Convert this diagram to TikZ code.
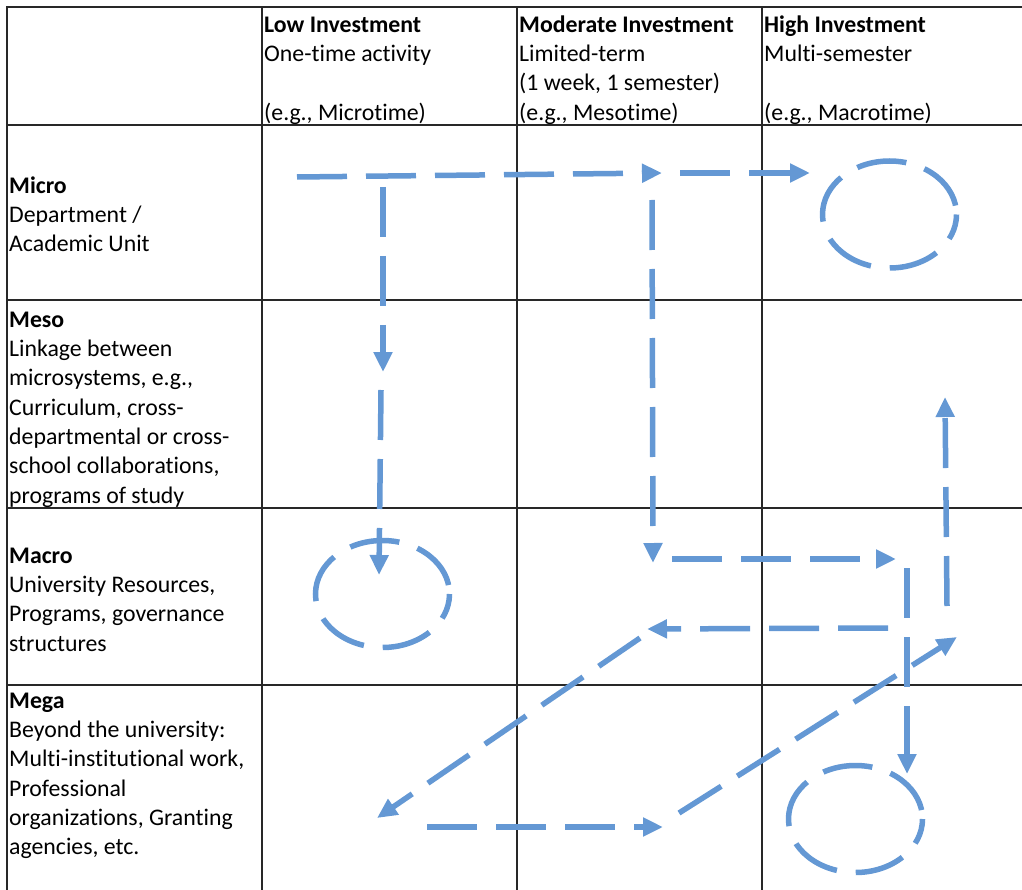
\documentclass[tikz,border=0pt]{standalone}
\usepackage{fontspec}
\setmainfont{Carlito}[Ligatures={NoCommon},Contextuals={NoAlternate}]
\usetikzlibrary{arrows.meta,shapes.geometric}
\definecolor{flow}{RGB}{100,152,212}
\definecolor{gridc}{RGB}{40,40,40}
\newcommand\cellfont{\fontsize{23.8}{29.3}\selectfont}
\begin{document}
\begin{tikzpicture}[x=1pt,y=-1pt,
  gridline/.style={draw=gridc, line width=1.4pt},
  outerline/.style={draw=gridc, line width=2pt},
  celltext/.style={anchor=north west, inner sep=0pt, align=left, font=\cellfont},
  flowarrow/.style={draw=flow, line width=5.5pt, dash pattern=on 50pt off 19pt, -{Triangle[length=20pt,width=18pt]}},
  loopring/.style={ellipse, draw=flow, line width=5.5pt, dash pattern=on 50pt off 19pt, dash phase=60pt, minimum width=134pt, minimum height=107pt, inner sep=0pt}
]
\useasboundingbox (0,0) rectangle (1022,890);
% grid
\foreach \yy in {125,300,508,685} \draw[gridline] (7,\yy) -- (1022,\yy);
\foreach \xx in {262,517,762} \draw[gridline] (\xx,7) -- (\xx,890);
\draw[outerline] (7,890) -- (7,7) -- (1022,7);
% header texts
\node[celltext] (low) at (264,11.5) {\strut\textbf{Low Investment}\\One-time activity\\\strut\\(e.g., Microtime)};
\node[celltext] (mod) at (519,11.5) {\strut\textbf{Moderate Investment}\\Limited-term\\(1 week, 1 semester)\\(e.g., Mesotime)};
\node[celltext] (high) at (764,11.5) {\strut\textbf{High Investment}\\Multi-semester\\\strut\\(e.g., Macrotime)};
% row texts
\node[celltext] (micro) at (9,172.5) {\strut\textbf{Micro}\\Department /\\Academic Unit};
\node[celltext] (meso) at (9,306.5) {\strut\textbf{Meso}\\Linkage between\\microsystems, e.g.,\\Curriculum, cross-\\departmental or cross-\\school collaborations,\\programs of study};
\node[celltext] (macro) at (9,542.5) {\strut\textbf{Macro}\\University Resources,\\Programs, governance\\structures};
\node[celltext] (mega) at (9,687.5) {\strut\textbf{Mega}\\Beyond the university:\\Multi-institutional work,\\Professional\\organizations, Granting\\agencies, etc.};
% loops
\node[loopring] (e1) at (382.5,594) {};
\node[loopring] (e2) at (889.5,214.5) {};
\node[loopring] (e3) at (855.5,819) {};
% arrow end points
\coordinate (a1s) at (297,177); \coordinate (a1e) at (662,173);
\coordinate (a2s) at (680,173); \coordinate (a2e) at (810,173);
\coordinate (b1s) at (383,187); \coordinate (b1e) at (383,372);
\coordinate (b2s) at (381,390); \coordinate (b2e) at (379,575);
\coordinate (cs) at (652,200);  \coordinate (ce) at (653,563);
\coordinate (ds) at (672,559);  \coordinate (de) at (896,559);
\coordinate (es) at (907,568);  \coordinate (ee) at (907,774);
\coordinate (fs) at (947,606);  \coordinate (fe) at (945,397);
\coordinate (gs) at (888,628);  \coordinate (ge) at (647,629);
\coordinate (hs) at (640,638);  \coordinate (he) at (377,818);
\coordinate (is) at (427,827);  \coordinate (ie) at (663,827);
\coordinate (js) at (679,813);  \coordinate (je) at (957,637);
% arrows
\draw[flowarrow] (a1s) -- (a1e);
\draw[flowarrow] (a2s) -- (a2e);
\draw[flowarrow] (b1s) -- (b1e);
\draw[flowarrow] (b2s) -- (b2e);
\draw[flowarrow] (cs) -- (ce);
\draw[flowarrow] (ds) -- (de);
\draw[flowarrow] (es) -- (ee);
\draw[flowarrow] (fs) -- (fe);
\draw[flowarrow] (gs) -- (ge);
\draw[flowarrow] (hs) -- (he);
\draw[flowarrow] (is) -- (ie);
\draw[flowarrow] (js) -- (je);
\end{tikzpicture}
\end{document}
